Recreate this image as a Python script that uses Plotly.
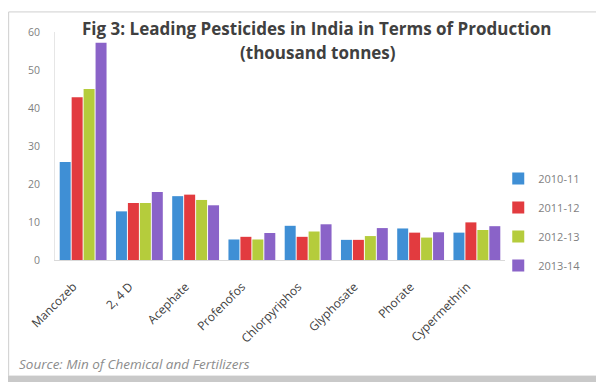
import plotly.graph_objects as go

categories = ["Mancozeb", "2, 4 D", "Acephate", "Profenofos", "Chlorpyriphos",
              "Glyphosate", "Phorate", "Cypermethrin"]
series_names = ["2010-11", "2011-12", "2012-13", "2013-14"]
v_2010_11 = [25.8, 12.8, 16.8, 5.4, 9.0, 5.3, 8.3, 7.2]
v_2011_12 = [42.8, 15.0, 17.2, 6.1, 6.1, 5.3, 7.2, 9.9]
v_2012_13 = [45.0, 15.0, 15.8, 5.4, 7.5, 6.3, 5.9, 7.9]
v_2013_14 = [57.2, 17.9, 14.4, 7.1, 9.4, 8.4, 7.3, 8.9]
colors = ["#3f8fd5", "#e23b3f", "#b5cc3c", "#8a63c8"]

fig = go.Figure()
for i, (name, vals) in enumerate(zip(series_names, [v_2010_11, v_2011_12, v_2012_13, v_2013_14])):
    fig.add_trace(go.Bar(x=categories, y=vals, name=name, marker_color=colors[i],
                         marker_line_width=0, legendgroup=name))

# the page body adds an 8px margin, so the figure is 8px smaller and shifted
fig.update_layout(
    width=596, height=374,
    paper_bgcolor="white", plot_bgcolor="white",
    margin=dict(l=47, r=99, t=24, b=122, autoexpand=False),
    font=dict(family="Open Sans, DejaVu Sans, sans-serif", color="#595959"),
    barmode="group", bargap=0.15, bargroupgap=0.08,
    showlegend=True,
    legend=dict(x=0.985, y=0.167, xanchor="left", yanchor="middle",
                font=dict(size=11, color="#7f7f7f"), tracegroupgap=10,
                bgcolor="rgba(0,0,0,0)"),
    xaxis=dict(tickangle=-45, tickfont=dict(size=12, color="#404040"),
               showline=True, linecolor="#d9d9d9", linewidth=1, ticks="",
               ticklabelstandoff=14, ticklabelshift=-10, automargin=False),
    yaxis=dict(range=[0, 60], dtick=10, showgrid=False, zeroline=False,
               showline=True, linecolor="#e6e6e6", linewidth=1,
               tickfont=dict(size=10.5, color="#7f7f7f"), ticks="",
               ticklabelstandoff=12, automargin=False),
    annotations=[
        dict(text="<b>Fig 3: Leading Pesticides in India in Terms of Production</b>",
             xref="paper", yref="paper", x=0.58, y=1.017, xanchor="center", yanchor="middle",
             showarrow=False, font=dict(size=17, color="#404040")),
        dict(text="<b>(thousand tonnes)</b>",
             xref="paper", yref="paper", x=0.585, y=0.91, xanchor="center", yanchor="middle",
             showarrow=False, font=dict(size=17, color="#404040")),
        dict(text="<i>Source: Min of Chemical and Fertilizers</i>",
             xref="paper", yref="paper", x=-0.085, y=-0.455, xanchor="left", yanchor="middle",
             showarrow=False, font=dict(size=13.5, color="#8c8c8c")),
    ],
    shapes=[
        dict(type="rect", xref="paper", yref="paper", x0=-0.103, x1=1.211, y0=-0.509, y1=1.088,
             line=dict(color="#cfcfcf", width=1), fillcolor="rgba(0,0,0,0)", layer="below"),
        dict(type="rect", xref="paper", yref="paper", x0=-0.11, x1=1.23, y0=-0.509, y1=-0.54,
             line=dict(width=0), fillcolor="#c9c9c9", layer="below"),
    ],
)

fig.write_html("out.html")
